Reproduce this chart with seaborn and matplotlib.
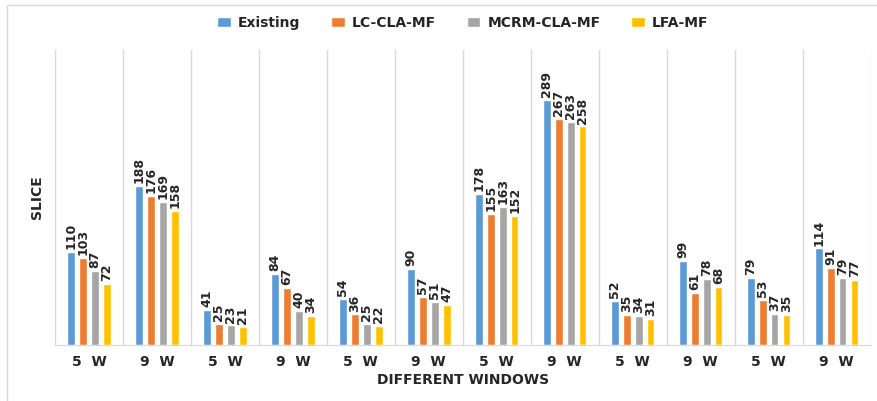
import pandas as pd
import numpy as np
import matplotlib.pyplot as plt
import seaborn as sns
from matplotlib.patches import Rectangle

# data
windows = ["5  W", "9  W"] * 6
series = ["Existing", "LC-CLA-MF", "MCRM-CLA-MF", "LFA-MF"]
existing = [110, 188, 41, 84, 54, 90, 178, 289, 52, 99, 79, 114]
lc_cla_mf = [103, 176, 25, 67, 36, 57, 155, 267, 35, 61, 53, 91]
mcrm_cla_mf = [87, 169, 23, 40, 25, 51, 163, 263, 34, 78, 37, 79]
lfa_mf = [72, 158, 21, 34, 22, 47, 152, 258, 31, 68, 35, 77]
colors = ["#5B9BD5", "#ED7D31", "#A5A5A5", "#FFC000"]

rows = []
for name, vals in zip(series, [existing, lc_cla_mf, mcrm_cla_mf, lfa_mf]):
    for i, v in enumerate(vals):
        rows.append({"pos": i, "win": windows[i], "series": name, "value": v})
df = pd.DataFrame(rows)

sns.set_style("white")
fig = plt.figure(figsize=(8.78, 4.01), dpi=100)
ax = fig.add_axes([0.0626, 0.14, 0.929, 0.735])

sns.barplot(data=df, x="pos", y="value", hue="series", palette=colors,
            width=0.7, gap=0.35, ax=ax, saturation=1)

for c in ax.containers:
    ax.bar_label(c, rotation=90, padding=2, fontsize=9, fontweight="bold")

ax.set_ylim(0, 348)
ax.set_xlim(-0.5, len(windows) - 0.5)
ax.set_yticks([])
ax.set_xticks(range(len(windows)))
ax.set_xticklabels(windows, fontsize=10, fontweight="bold")
ax.tick_params(axis="x", length=0, pad=7)
ax.set_xticks(np.arange(-0.5, len(windows), 1), minor=True)
ax.grid(which="minor", axis="x", color="#D9D9D9", linewidth=1)
ax.tick_params(which="minor", length=0)
for s in ["top", "right", "left"]:
    ax.spines[s].set_visible(False)
ax.spines["bottom"].set_color("#D9D9D9")
ax.set_xlabel("DIFFERENT WINDOWS", fontsize=10, fontweight="bold", labelpad=3)
ax.set_ylabel("SLICE", fontsize=10, fontweight="bold", labelpad=8)

leg = ax.legend(loc="center", bbox_to_anchor=(0.5, 1.093), ncol=4,
                frameon=False, fontsize=10, handlelength=1.0, handleheight=0.7,
                columnspacing=2.2, handletextpad=0.5)
for t in leg.get_texts():
    t.set_fontweight("bold")

# outer frame of the original picture
fig.patches.append(Rectangle((0.008, -0.1), 1.1, 1.087, transform=fig.transFigure,
                             fill=False, edgecolor="#D9D9D9", linewidth=1))

fig.savefig("out.png", dpi=100)
